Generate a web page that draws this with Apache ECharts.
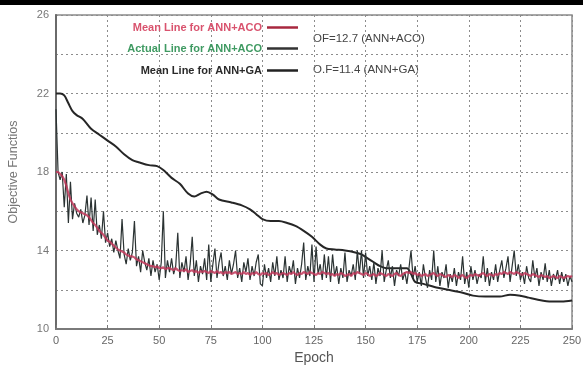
<!DOCTYPE html>
<html>
<head>
<meta charset="utf-8">
<script src="https://cdn.jsdelivr.net/npm/echarts@6/dist/echarts.min.js"></script>
<style>
  html, body { margin: 0; padding: 0; background: #fff; }
  #chart { width: 583px; height: 365px; }
</style>
</head>
<body>
<div id="chart"></div>
<script>
// Epoch axis ticks and objective-function ticks
const epochTicks = [0, 25, 50, 75, 100, 125, 150, 175, 200, 225, 250];
const yLabelTicks = [10, 14, 18, 22, 26];

// Mean objective function per epoch, ANN+ACO (epochs 0..250)
const acoMean = [
  18.0,18.0,17.9,17.8,17.6,17.3,16.9,16.6,16.4,16.25,16.1,
  16.0,15.95,15.9,15.85,15.8,15.7,15.55,15.4,15.3,15.15,
  15.0,14.9,14.8,14.65,14.5,14.45,14.35,14.25,14.15,14.05,
  14.0,13.95,13.9,13.8,13.75,13.7,13.7,13.65,13.55,13.5,
  13.45,13.4,13.35,13.3,13.25,13.2,13.2,13.15,13.2,13.1,
  13.1,13.15,13.05,13.1,13.1,13.05,13.0,13.1,13.0,12.95,
  13.0,12.95,13.05,12.9,12.95,13.0,12.9,12.95,12.85,12.95,
  12.9,12.95,12.9,12.85,12.95,12.9,12.85,12.95,12.85,12.9,
  12.8,12.9,12.85,12.9,12.8,12.85,12.9,12.8,12.85,12.8,
  12.9,12.8,12.85,12.75,12.85,12.8,12.9,12.8,12.75,12.85,
  12.8,12.85,12.75,12.8,12.9,12.8,12.85,12.75,12.8,12.85,
  12.8,12.75,12.85,12.8,12.9,12.8,12.75,12.85,12.8,12.9,
  12.85,12.8,12.9,12.85,12.8,12.75,12.85,12.8,12.9,12.85,
  12.8,12.85,12.75,12.8,12.7,12.8,12.75,12.85,12.8,12.7,
  12.75,12.8,12.7,12.85,12.8,12.9,12.85,12.8,12.75,12.85,
  12.8,12.7,12.75,12.8,12.7,12.75,12.85,12.8,12.75,12.7,
  12.8,12.75,12.7,12.8,12.85,12.75,12.7,12.8,12.85,12.9,
  12.85,12.9,12.8,12.85,12.75,12.8,12.7,12.75,12.8,12.7,
  12.75,12.8,12.85,12.75,12.7,12.8,12.75,12.7,12.65,12.75,
  12.7,12.65,12.75,12.7,12.6,12.7,12.75,12.65,12.6,12.7,
  12.75,12.7,12.8,12.75,12.7,12.8,12.85,12.75,12.7,12.8,
  12.75,12.7,12.8,12.75,12.85,12.8,12.9,12.85,12.8,12.9,
  12.85,12.8,12.9,12.85,12.8,12.75,12.85,12.8,12.75,12.7,
  12.8,12.75,12.7,12.65,12.75,12.7,12.65,12.7,12.6,12.65,
  12.7,12.65,12.6,12.7,12.65,12.6,12.65,12.7,12.65,12.7
];

// Actual objective function per epoch, ANN+ACO (epochs 0..250)
const acoActual = [
  21.2,18.0,17.6,18.0,16.2,17.9,15.4,17.5,15.6,16.4,15.9,
  15.7,16.1,15.4,15.8,16.8,15.3,16.7,15.0,16.6,14.8,
  15.3,14.6,16.0,14.4,14.9,14.2,14.6,13.9,14.5,14.0,
  13.6,15.6,13.8,13.3,14.1,13.5,13.9,15.5,13.2,13.7,
  12.9,14.0,13.4,13.0,13.6,12.7,13.5,12.9,13.3,12.5,
  13.4,16.0,12.6,13.5,12.9,13.6,12.8,13.2,14.9,12.6,
  13.4,12.9,13.7,12.5,13.3,14.7,12.7,13.5,12.4,13.2,
  12.8,13.6,12.5,14.3,12.4,13.3,14.1,12.6,13.4,13.9,
  12.7,13.2,12.5,13.5,12.8,13.3,14.0,12.6,13.1,12.4,
  13.4,12.9,13.6,12.5,13.2,12.7,13.4,13.8,12.3,12.2,
  13.3,12.6,13.1,12.4,13.4,12.7,13.7,12.5,13.0,12.6,
  13.7,12.4,13.2,12.8,13.5,12.3,13.1,12.6,13.3,14.4,
  12.5,13.2,12.7,14.3,12.4,14.2,12.8,13.3,12.5,13.8,
  12.6,13.7,12.4,13.8,12.7,13.2,12.3,13.1,12.6,13.9,
  12.4,13.0,12.7,13.3,12.5,14.0,12.8,14.0,12.6,13.9,
  12.7,13.2,12.5,13.4,12.3,13.1,12.7,14.0,12.4,13.0,
  13.5,12.6,13.2,12.2,13.0,12.7,13.3,12.5,12.9,12.3,
  13.1,14.0,12.6,13.2,12.4,12.9,12.2,13.3,12.6,12.1,
  13.0,12.5,14.0,12.4,13.2,12.2,12.9,12.6,13.3,12.1,
  12.8,12.4,13.1,12.2,12.9,12.5,13.7,12.3,12.9,12.1,
  13.2,12.5,13.0,12.3,12.8,12.6,13.7,12.4,13.1,12.2,
  12.9,12.5,13.3,12.4,13.0,13.5,12.6,13.1,13.7,12.4,
  13.2,14.0,12.7,13.3,12.5,12.9,12.3,13.2,12.6,12.4,
  13.5,12.6,13.1,12.2,12.9,12.5,13.35,12.4,13.0,12.2,
  12.8,12.5,13.0,12.3,12.9,12.4,12.8,12.2,12.7,12.4
];

// Mean objective function, ANN+GA (sampled epochs)
const gaEpochs = [0,2,4,6,8,10,13,17,21,25,29,33,37,40,45,49,52,56,60,64,67,70,73,76,79,85,90,94,97,100,
  104,108,112,116,120,124,128,131,135,140,145,148,151,154,157,160,165,170,172,174,178,185,190,197,202,
  208,215,220,225,229,233,240,245,250];
const gaMean = [22.0,22.0,21.9,21.5,21.1,20.9,20.7,20.2,19.9,19.6,19.3,18.9,18.6,18.5,18.35,18.3,18.1,17.7,17.4,16.9,
  16.75,16.9,17.0,16.85,16.6,16.45,16.3,16.1,15.85,15.6,
  15.5,15.5,15.4,15.25,15.0,14.7,14.3,14.1,14.05,14.0,13.9,13.8,13.6,13.4,13.2,13.1,13.1,13.1,12.8,12.4,
  12.3,12.1,12.0,11.85,11.7,11.65,11.65,11.75,11.7,11.6,11.5,11.4,11.4,11.45];

const seriesNames = ['Mean Line for ANN+ACO', 'Actual Line for ANN+ACO', 'Mean Line for ANN+GA'];
const notes = ['OF=12.7 (ANN+ACO)', 'O.F=11.4 (ANN+GA)'];

const epochs = acoActual.map((_, i) => i);
const pairs = (xs, ys) => xs.map((x, i) => [x, ys[i]]);

const chart = echarts.init(document.getElementById('chart'), null, { renderer: 'canvas' });

const FONT = 'Liberation Sans, Arial, sans-serif';
const legendRow = (name, color, iconColor, top) => ({
  data: [{ name: name, icon: 'rect', itemStyle: { color: iconColor } }],
  orient: 'vertical',
  right: 285,
  top: top,
  align: 'right',
  itemWidth: 31,
  itemHeight: 2.5,
  itemGap: 0,
  padding: 0,
  selectedMode: false,
  textStyle: { color: color, fontFamily: FONT, fontSize: 11, fontWeight: 'bold', padding: [0, 0, 0, 0] }
});

chart.setOption({
  animation: false,
  backgroundColor: '#ffffff',
  grid: {
    left: 56, right: 11, top: 15, bottom: 36,
    containLabel: false, outerBoundsMode: 'none',
    show: true, borderColor: '#8a8a8a', borderWidth: 1.5
  },
  legend: [
    legendRow(seriesNames[0], '#d9536e', '#a8283f', 22),
    legendRow(seriesNames[1], '#3f9a62', '#333', 43),
    legendRow(seriesNames[2], '#2a2a2a', '#222', 65)
  ],
  xAxis: {
    type: 'value', min: 0, max: 250, interval: 25,
    name: 'Epoch', nameLocation: 'middle', nameGap: 21,
    nameTextStyle: { fontFamily: FONT, fontSize: 14, color: '#555' },
    axisLine: { show: true, lineStyle: { color: '#7a7a7a', width: 2 } },
    axisTick: { show: true, inside: true, length: 4, lineStyle: { color: '#777' } },
    axisLabel: {
      fontFamily: FONT, fontSize: 11, color: '#666', margin: 6,
      formatter: v => epochTicks.includes(v) ? String(v) : ''
    },
    splitLine: { show: true, lineStyle: { color: '#8c8c8c', type: [2, 3], width: 1 } }
  },
  yAxis: {
    type: 'value', min: 10, max: 26, interval: 2,
    name: 'Objective Functios', nameLocation: 'middle', nameGap: 36, nameRotate: 90,
    nameTextStyle: { fontFamily: FONT, fontSize: 12.5, color: '#777' },
    axisLine: { show: true, lineStyle: { color: '#6a6a6a', width: 2 } },
    axisTick: { show: false },
    axisLabel: {
      fontFamily: FONT, fontSize: 11, color: '#777', margin: 7,
      formatter: v => yLabelTicks.includes(v) ? String(v) : ''
    },
    splitLine: { show: true, lineStyle: { color: '#8c8c8c', type: [2, 3], width: 1 } }
  },
  series: [
    {
      name: seriesNames[2], type: 'line', data: pairs(gaEpochs, gaMean),
      symbol: 'none', smooth: 0.3, z: 2,
      lineStyle: { color: '#262626', width: 2 }, itemStyle: { color: '#262626' }
    },
    {
      name: seriesNames[1], type: 'line', data: pairs(epochs, acoActual),
      symbol: 'none', z: 3,
      lineStyle: { color: '#2b3333', width: 1.2 }, itemStyle: { color: '#2b3333' }
    },
    {
      name: seriesNames[0], type: 'line', data: pairs(epochs, acoMean),
      symbol: 'none', z: 4,
      lineStyle: { color: '#c23a5c', width: 2.2, opacity: 0.85 }, itemStyle: { color: '#a8283f' }
    }
  ],
  graphic: [
    { type: 'rect', left: 0, top: 0, shape: { width: 583, height: 5 }, style: { fill: '#000' } },
    { type: 'text', left: 313, top: 33, style: { text: notes[0], fill: '#444', font: '11.5px "Liberation Sans", Arial, sans-serif' } },
    { type: 'text', left: 313, top: 64, style: { text: notes[1], fill: '#444', font: '11.5px "Liberation Sans", Arial, sans-serif' } }
  ]
});
</script>
</body>
</html>
